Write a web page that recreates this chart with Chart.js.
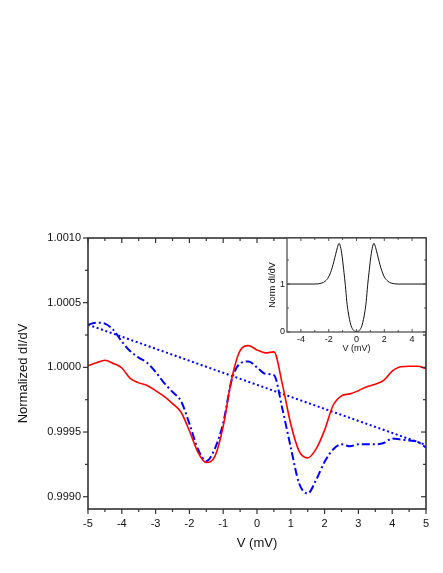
<!DOCTYPE html>
<html><head><meta charset="utf-8">
<script src="https://cdn.jsdelivr.net/npm/chart.js@4.4.1/dist/chart.umd.min.js"></script>
<style>
html,body{margin:0;padding:0;background:#fff;}
#wrap{position:relative;width:443px;height:573px;overflow:hidden;}
#main{position:absolute;left:0;top:0;}
#inset{position:absolute;left:255px;top:230px;}
</style></head><body>
<div id="wrap"><canvas id="main" width="443" height="573"></canvas><canvas id="inset" width="180" height="130"></canvas></div>
<script>
// ---- main panel data ----
const voltage = [-5,-4.75,-4.5,-4.25,-4,-3.75,-3.5,-3.25,-3,-2.75,-2.5,-2.25,-2,-1.75,-1.5,-1.25,-1,-0.75,-0.5,-0.25,0,0.25,0.5,0.75,1,1.25,1.5,1.75,2,2.25,2.5,2.75,3,3.25,3.5,3.75,4,4.25,4.5,4.75,5];
const redValues = [1.000013,1.000035,1.000055,1.000030,0.999995,0.999915,0.999880,0.999860,0.999820,0.999775,0.999720,0.999655,0.999510,0.999345,0.999265,0.999310,0.999544,0.999910,1.000130,1.000168,1.000135,1.000112,1.000120,0.999870,0.999560,0.999350,0.999300,0.999370,0.999515,0.999705,0.999780,0.999795,0.999820,0.999850,0.999870,0.999900,0.999970,1.000005,1.000008,1.000008,0.999990];
const blueValues = [1.000330,1.000345,1.000338,1.000290,1.000200,1.000125,1.000075,1.000035,0.999965,0.999880,0.999810,0.999740,0.999565,0.999370,0.999275,0.999370,0.999570,0.999900,1.000030,1.000045,1.000000,0.999950,0.999940,0.999680,0.999380,0.999100,0.999025,0.999130,0.999270,0.999365,0.999405,0.999390,0.999405,0.999405,0.999405,0.999415,0.999450,0.999442,0.999435,0.999425,0.999380];
const fitVoltage = [-5, 5];
const fitValues = [1.000330, 0.999400];
const yTickValues = [0.9990, 0.9995, 1.0000, 1.0005, 1.0010];
const yMinorValues = [0.99925, 0.99975, 1.00025, 1.00075];
const xTickValues = [-5,-4,-3,-2,-1,0,1,2,3,4,5];
const xMinorValues = [-4.5,-3.5,-2.5,-1.5,-0.5,0.5,1.5,2.5,3.5,4.5];

// ---- inset data ----
const insetVoltage = [-5,-4,-3,-2.5,-2.25,-2,-1.75,-1.5,-1.375,-1.25,-1.125,-1,-0.9,-0.8,-0.7,-0.6,-0.5,-0.4,-0.3,-0.2,-0.1,0,0.1,0.2,0.3,0.4,0.5,0.6,0.7,0.8,0.9,1,1.125,1.25,1.375,1.5,1.75,2,2.25,2.5,3,4,5];
const insetValues = [1.0,1.0,1.0,1.02,1.06,1.15,1.34,1.62,1.76,1.85,1.74,1.5,1.24,0.97,0.64,0.42,0.26,0.14,0.07,0.03,0.015,0.01,0.015,0.03,0.07,0.14,0.26,0.42,0.64,0.97,1.24,1.5,1.74,1.85,1.76,1.62,1.34,1.15,1.06,1.02,1.0,1.0,1.0];
const insetXTicks = [-4,-2,0,2,4];
const insetXMinor = [-3,-1,1,3];
const insetYTicks = [0,1];
const insetYMinor = [0.5,1.5];

const FONT = "'Liberation Sans', Arial, Helvetica, sans-serif";

const framePlugin = {
  id: 'frame',
  beforeDraw(chart, args, o) {
    if (!o.fill) return;
    const a = chart.chartArea, ctx = chart.ctx;
    ctx.save(); ctx.fillStyle = o.fill;
    ctx.fillRect(a.left, a.top, a.right - a.left, a.bottom - a.top);
    ctx.restore();
  },
  afterDraw(chart, args, o) {
    const {ctx, chartArea: a, scales} = chart;
    const xs = scales.x, ys = scales.y;
    ctx.save();
    ctx.strokeStyle = o.color;
    ctx.lineWidth = o.tickWidth;
    const seg = (x1, y1, x2, y2) => { ctx.beginPath(); ctx.moveTo(x1, y1); ctx.lineTo(x2, y2); ctx.stroke(); };
    const doX = (vals, len) => vals.forEach(v => {
      const p = xs.getPixelForValue(v);
      seg(p, a.bottom, p, a.bottom + o.bottomDir * len);
      seg(p, a.top, p, a.top + o.topDir * len);
    });
    const doY = (vals, len) => vals.forEach(v => {
      const p = ys.getPixelForValue(v);
      seg(a.left, p, a.left + o.leftDir * len, p);
      seg(a.right, p, a.right + o.rightDir * len, p);
    });
    doX(o.xMajor, o.major); doX(o.xMinor, o.minor);
    doY(o.yMajor, o.major); doY(o.yMinor, o.minor);
    ctx.lineWidth = o.width;
    ctx.strokeRect(a.left, a.top, a.right - a.left, a.bottom - a.top);
    ctx.restore();
  }
};

const pts = (xs, ys) => xs.map((v, i) => ({x: v, y: ys[i]}));
const noGrid = {display: false, drawTicks: false, tickLength: 0};

new Chart(document.getElementById('main'), {
  type: 'line',
  data: {
    datasets: [
      {data: pts(voltage, redValues), borderColor: '#ff0000', borderWidth: 1.6, pointRadius: 0, cubicInterpolationMode: 'monotone'},
      {data: pts(voltage, blueValues), borderColor: '#0000ff', borderWidth: 2, borderDash: [8, 3, 2, 3], pointRadius: 0, cubicInterpolationMode: 'monotone'},
      {data: pts(fitVoltage, fitValues), borderColor: '#0000ff', borderWidth: 2, borderDash: [2, 2.6], pointRadius: 0}
    ]
  },
  options: {
    responsive: false, animation: false, devicePixelRatio: 1,
    layout: {padding: {left: 0, top: 238, right: 17, bottom: 0}},
    plugins: {
      legend: {display: false}, tooltip: {enabled: false},
      frame: {color: '#333', width: 1.6, tickWidth: 1.2, major: 5, minor: 3,
        bottomDir: 1, topDir: 1, leftDir: -1, rightDir: -1,
        xMajor: xTickValues, xMinor: xMinorValues, yMajor: yTickValues, yMinor: yMinorValues}
    },
    scales: {
      x: {
        type: 'linear', position: 'bottom', min: -5, max: 5,
        afterFit: s => { s.height = 64; },
        afterBuildTicks: s => { s.ticks = xTickValues.map(v => ({value: v})); },
        grid: noGrid, border: {display: false},
        ticks: {font: {family: FONT, size: 11}, color: '#111', padding: 8, maxRotation: 0, autoSkip: false, callback: v => String(v)},
        title: {display: true, text: 'V (mV)', font: {family: FONT, size: 13}, color: '#111', padding: {top: 0, bottom: 22}}
      },
      y: {
        type: 'linear', position: 'left', min: 0.998905, max: 1.0010,
        afterFit: s => { s.width = 88; },
        afterBuildTicks: s => { s.ticks = yTickValues.map(v => ({value: v})); },
        grid: noGrid, border: {display: false},
        ticks: {font: {family: FONT, size: 11}, color: '#111', padding: 7, autoSkip: false, callback: v => Number(v).toFixed(4)},
        title: {display: true, text: 'Normalized dI/dV', font: {family: FONT, size: 13}, color: '#111', padding: {top: 15.5, bottom: 0}}
      }
    }
  },
  plugins: [framePlugin]
});

new Chart(document.getElementById('inset'), {
  type: 'line',
  data: {
    datasets: [
      {data: pts(insetVoltage, insetValues), borderColor: '#111', borderWidth: 1, pointRadius: 0, cubicInterpolationMode: 'monotone'}
    ]
  },
  options: {
    responsive: false, animation: false, devicePixelRatio: 1,
    layout: {padding: {left: 0, top: 8, right: 9, bottom: 0}},
    plugins: {
      legend: {display: false}, tooltip: {enabled: false},
      frame: {fill: '#fff', color: '#444', width: 1.2, tickWidth: 0.9, major: 3, minor: 2,
        bottomDir: -1, topDir: 1, leftDir: 1, rightDir: -1,
        xMajor: insetXTicks, xMinor: insetXMinor, yMajor: insetYTicks, yMinor: insetYMinor}
    },
    scales: {
      x: {
        type: 'linear', position: 'bottom', min: -5, max: 5,
        afterFit: s => { s.height = 28; },
        afterBuildTicks: s => { s.ticks = insetXTicks.map(v => ({value: v})); },
        grid: noGrid, border: {display: false},
        ticks: {font: {family: FONT, size: 9}, color: '#111', padding: 2, maxRotation: 0, autoSkip: false, callback: v => String(v)},
        title: {display: true, text: 'V (mV)', font: {family: FONT, size: 9}, color: '#111', padding: {top: 0, bottom: 5.6}}
      },
      y: {
        type: 'linear', position: 'left', min: 0, max: 1.96,
        afterFit: s => { s.width = 32; },
        afterBuildTicks: s => { s.ticks = insetYTicks.map(v => ({value: v})); },
        grid: noGrid, border: {display: false},
        ticks: {font: {family: FONT, size: 9}, color: '#111', padding: 2, autoSkip: false, callback: v => String(v)},
        title: {display: true, text: 'Norm dI/dV', font: {family: FONT, size: 9}, color: '#111', padding: {top: 12.6, bottom: 0}}
      }
    }
  },
  plugins: [framePlugin]
});
</script>
</body></html>
